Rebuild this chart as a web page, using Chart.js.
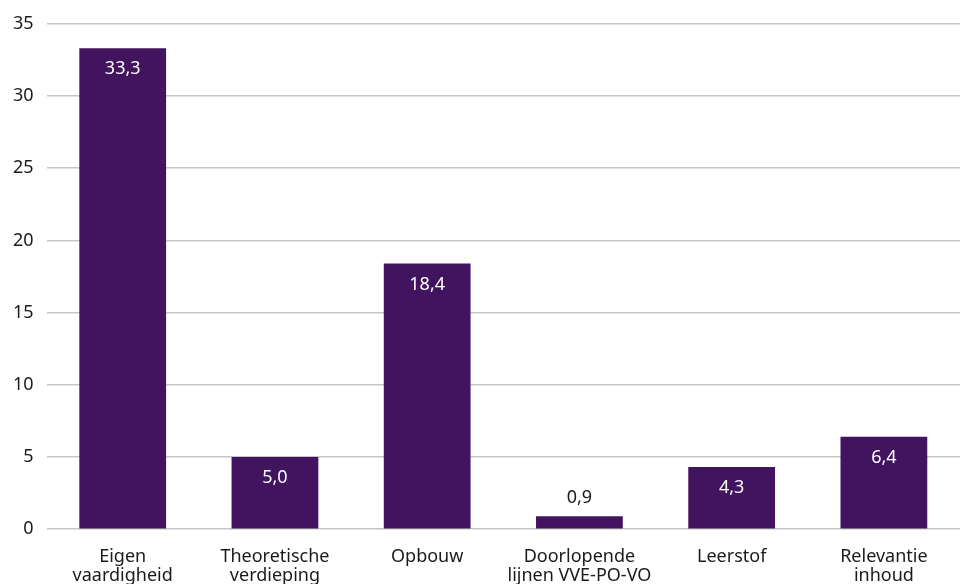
<!DOCTYPE html>
<html><head><meta charset="utf-8">
<script src="https://cdn.jsdelivr.net/npm/chart.js@4/dist/chart.umd.min.js"></script>
<style>html,body{margin:0;padding:0;overflow:hidden;background:#fff}#wrap{width:960px;height:595px}</style>
</head><body>
<div id="wrap"><canvas id="c"></canvas></div>
<script>
const categories=[['Eigen','vaardigheid'],['Theoretische','verdieping'],['Opbouw'],['Doorlopende','lijnen VVE-PO-VO'],['Leerstof'],['Relevantie','inhoud']];
const values=[33.3,5.0,18.4,0.9,4.3,6.4];
const yTicks=[0,5,10,15,20,25,30,35];

const FONT='"Noto Sans", "Open Sans", sans-serif';
const PURPLE='#42145f';

// value labels: inside the bar at the top, above it when the bar is too short
const valueLabels={id:'valueLabels',afterDatasetsDraw(chart){
  const ctx=chart.ctx; const meta=chart.getDatasetMeta(0);
  ctx.save(); ctx.font='18px '+FONT; ctx.textAlign='center'; ctx.textBaseline='middle';
  meta.data.forEach((b,i)=>{
    const txt=values[i].toFixed(1).replace('.',',');
    const h=b.base-b.y;
    if(h>40){ctx.fillStyle='#fff'; ctx.fillText(txt,b.x,b.y+21);}
    else {ctx.fillStyle='#1a1a1a'; ctx.fillText(txt,b.x,b.y-18);}
  });
  ctx.restore();
}};

new Chart(document.getElementById('c'),{
  type:'bar',
  data:{labels:categories,datasets:[{data:values,backgroundColor:PURPLE,barPercentage:0.57,categoryPercentage:1}]},
  options:{responsive:true,maintainAspectRatio:false,animation:false,
    layout:{padding:{top:5,right:0,left:0,bottom:0}},
    plugins:{legend:{display:false},tooltip:{enabled:false}},
    scales:{
      x:{grid:{display:false},border:{display:false},
        ticks:{color:'#1a1a1a',font:{family:FONT,size:18,lineHeight:1.05},padding:10,maxRotation:0,autoSkip:false}},
      y:{min:0,max:35,afterBuildTicks:s=>{s.ticks=yTicks.map(v=>({value:v}));},
        grid:{color:'#c6c6c6',lineWidth:1.5,drawTicks:false},border:{display:false},
        ticks:{color:'#1a1a1a',font:{family:FONT,size:18},padding:13}}
    }
  },
  plugins:[valueLabels]
});
</script>
</body></html>
